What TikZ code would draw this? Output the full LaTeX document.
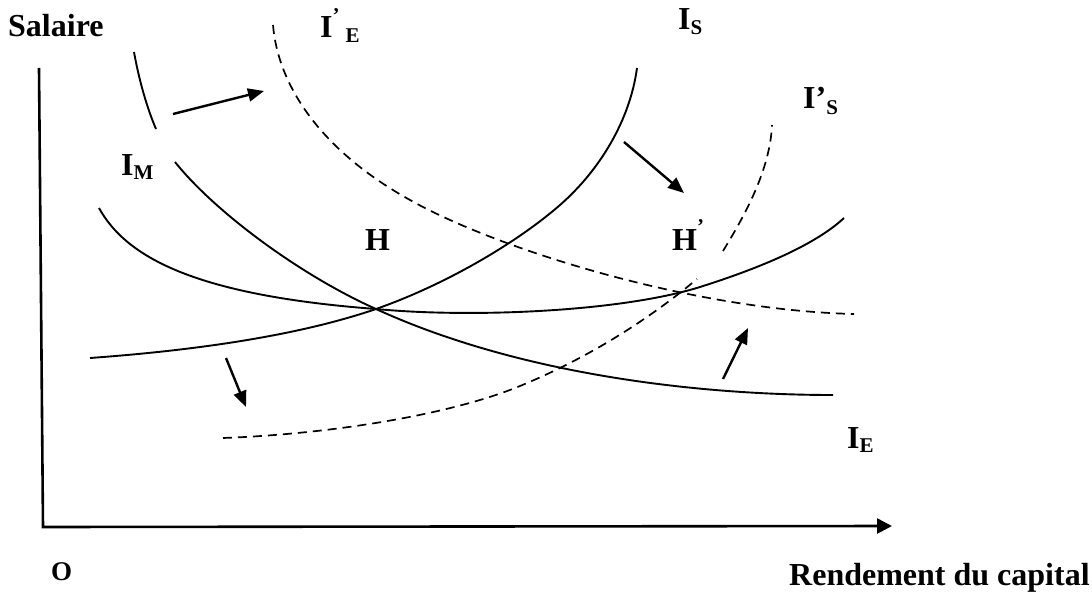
\documentclass[tikz,border=0pt]{standalone}
\usepackage{fontspec}
\setmainfont{Liberation Serif}
\usetikzlibrary{arrows.meta}
\newcommand{\lsub}[2][-5pt]{\raisebox{#1}{\fontsize{21}{21}\selectfont #2}}
\newcommand{\lsup}[2]{\raisebox{#1}{\fontsize{21}{21}\selectfont #2}}
\begin{document}
\begin{tikzpicture}[x=1pt,y=-1pt,
  lbl/.style={anchor=base west, inner sep=0pt, font=\fontsize{32}{36}\selectfont\bfseries},
  solidcurve/.style={line width=1.9pt},
  dashcurve/.style={line width=1.7pt, dash pattern=on 9pt off 6pt},
  axisline/.style={line width=2.6pt, -{Triangle[length=15pt,width=15pt]}},
  shiftarrow/.style={line width=2.4pt, -{Triangle[length=16pt,width=13pt]}}]
\useasboundingbox (0,0) rectangle (1092,594);

% axes
\coordinate (ytop) at (39,68);
\coordinate (origin) at (43,527);
\coordinate (xend) at (892,526);
\draw[axisline] (ytop) -- (origin) -- (xend);

% intersection point
\coordinate (H) at (376,309);

% I_E (solid, decreasing)
\draw[solidcurve] (134,52) .. controls (139,80) and (147,108) .. (156,129);
\draw[solidcurve] (175,162) .. controls (215,212) and (300,275) .. (H)
  .. controls (520,375) and (700,395) .. (833,395);

% I_M (solid, U-shaped)
\draw[solidcurve] (99,208) .. controls (125,255) and (190,295) .. (H)
  .. controls (470,318) and (620,312) .. (700,287)
  .. controls (760,268) and (815,245) .. (844,218);

% I_S (solid, increasing)
\draw[solidcurve] (90,358) .. controls (200,350) and (300,335) .. (H)
  .. controls (450,283) and (520,240) .. (560,205)
  .. controls (600,170) and (630,120) .. (637,68);

% I'_E (dashed)
\draw[dashcurve] (273,25) .. controls (278,85) and (320,150) .. (410,200)
  .. controls (495,248) and (690,310) .. (854,314);

% I'_S (dashed)
\draw[dashcurve] (223,438) .. controls (330,434) and (450,415) .. (520,386)
  .. controls (600,353) and (660,310) .. (697,279);
\draw[dashcurve] (723,251) .. controls (745,215) and (770,170) .. (772,125);

% shift arrows
\coordinate (a1s) at (173,114); \coordinate (a1e) at (264,91);
\coordinate (a2s) at (624,142); \coordinate (a2e) at (684,193);
\coordinate (a3s) at (226,358); \coordinate (a3e) at (246,407);
\coordinate (a4s) at (723,379); \coordinate (a4e) at (748,328);
\draw[shiftarrow] (a1s) -- (a1e);
\draw[shiftarrow] (a2s) -- (a2e);
\draw[shiftarrow] (a3s) -- (a3e);
\draw[shiftarrow] (a4s) -- (a4e);

% labels
\node[lbl] (salaire) at (8,37) {Salaire};
\node[lbl] (ipe) at (320,38) {I\lsup{15pt}{’}\hspace{6pt}\lsub{E}};
\node[lbl] (is) at (678,30) {I\lsub{S}};
\node[lbl] (ips) at (803,108) {I’\lsub[-6pt]{S}};
\node[lbl] (im) at (121,175) {I\lsub[-4pt]{M}};
\node[lbl] (ie) at (847,448) {I\lsub[-4pt]{E}};
\node[lbl] (h) at (365,250) {H};
\node[lbl] (hp) at (672,250) {H\lsup{17pt}{’}};
\node[lbl, font=\fontsize{27}{30}\selectfont\bfseries] (o) at (51,580) {O};
\node[lbl] (rend) at (789,585) {Rendement du capital};
\end{tikzpicture}
\end{document}
